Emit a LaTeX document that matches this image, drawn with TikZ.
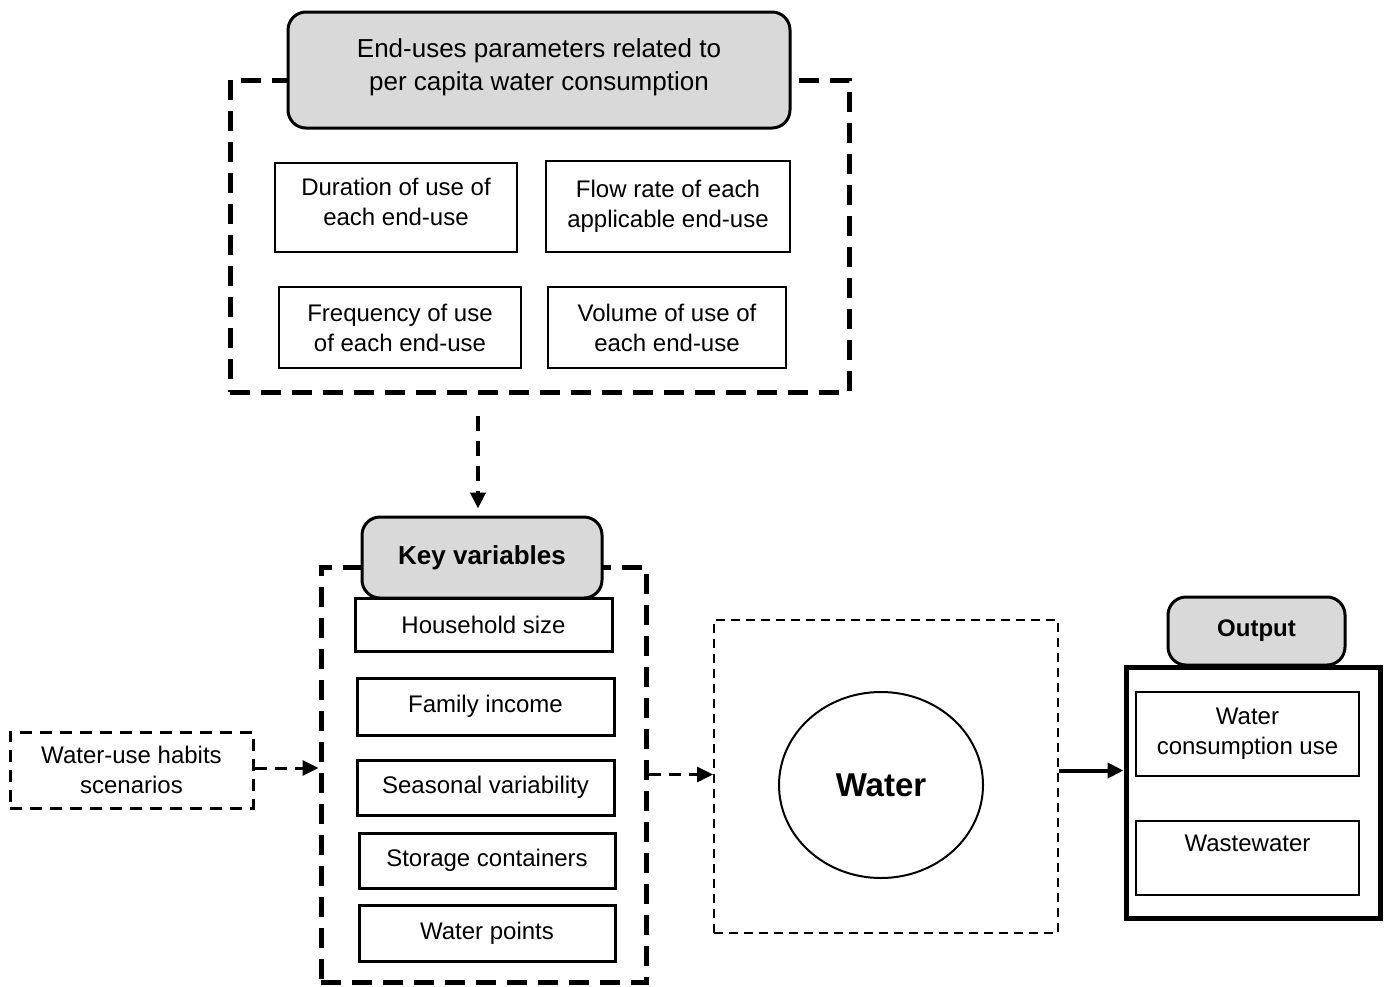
\documentclass[tikz,border=0pt]{standalone}
\usepackage{fontspec}
\setmainfont{Liberation Sans}
\usetikzlibrary{shapes.geometric,arrows.meta}

\begin{document}
\begin{tikzpicture}[x=1pt,y=-1pt,
  txt/.style={font=\fontsize{24}{30}\selectfont, align=center, inner sep=0pt},
  thinbox/.style={txt, draw, line width=1.5pt},
  thickbox/.style={txt, draw, line width=3pt},
  headbox/.style={draw, line width=3pt, fill=black!15, rounded corners=18pt, align=center, inner sep=0pt},
  bigdash/.style={draw, line width=5pt, dash pattern=on 20pt off 11pt},
  middash/.style={line width=3pt, dash pattern=on 12pt off 8pt},
  tip/.style={-{Triangle[length=16pt,width=15pt]}}]
\useasboundingbox (0,0) rectangle (1386,986);

% End-uses parameters
\node[bigdash, minimum width=619pt, minimum height=312pt] (params) at (539.5,236) {};
\node[headbox, minimum width=502pt, minimum height=116pt, font=\fontsize{26}{33}\selectfont] (paramhead) at (539,70)
  {End-uses parameters related to\\per capita water consumption\\[-22pt]};
\node[thinbox, minimum width=242pt, minimum height=89pt] (duration) at (396,207.5) {Duration of use of\\each end-use\\[-18pt]};
\node[thinbox, minimum width=244pt, minimum height=91pt] (flow) at (668,206.5) {Flow rate of each\\applicable end-use};
\node[thinbox, minimum width=242pt, minimum height=81pt] (frequency) at (400,327.5) {Frequency of use\\of each end-use};
\node[thinbox, minimum width=238pt, minimum height=81pt] (volume) at (667,327.5) {Volume of use of\\each end-use};

% Key variables
\node[bigdash, minimum width=325pt, minimum height=415pt] (keys) at (483.5,774.5) {};
\node[thickbox, minimum width=257pt, minimum height=53pt] (household) at (483.5,624.5) {Household size};
\node[thickbox, minimum width=257pt, minimum height=57pt] (income) at (485.5,706.5) {Family income};
\node[thickbox, minimum width=257pt, minimum height=55pt] (seasonal) at (485.5,787.5) {Seasonal variability};
\node[thickbox, minimum width=256pt, minimum height=55pt] (storage) at (487,860.5) {Storage containers};
\node[thickbox, minimum width=256pt, minimum height=56pt] (points) at (487,933) {Water points};
\node[headbox, minimum width=240pt, minimum height=81pt, font=\fontsize{26}{30}\selectfont\bfseries] (keyhead) at (482,557.5) {Key variables};

% Habits
\node[txt, draw, middash, minimum width=243pt, minimum height=76pt] (habits) at (131.5,770) {Water-use habits\\scenarios};

% Water
\node[draw, line width=2pt, dash pattern=on 9pt off 6pt, minimum width=344pt, minimum height=313pt] (waterbox) at (886,776.5) {};
\node[ellipse, draw, line width=2pt, minimum width=204pt, minimum height=186pt, font=\fontsize{33}{40}\selectfont\bfseries] (water) at (881,785) {Water};

% Output
\node[draw, line width=5pt, minimum width=254pt, minimum height=251pt] (outbox) at (1253,792.5) {};
\node[headbox, minimum width=177pt, minimum height=68pt, font=\fontsize{24}{30}\selectfont\bfseries] (outhead) at (1256.5,631) {Output};
\node[thinbox, minimum width=223pt, minimum height=84pt] (consumption) at (1247.5,734) {Water\\consumption use};
\node[thinbox, minimum width=223pt, minimum height=74pt] (waste) at (1247.5,858) {Wastewater\\\mbox{}};

% Connectors
\coordinate (drop) at (478,392);
\draw[line width=4.5pt, dash pattern=on 15pt off 10pt, tip, shorten <=24pt, shorten >=7pt] (drop) -- (drop |- keyhead.north);
\draw[middash, tip] ([yshift=2pt]habits.east) -- ([yshift=2pt]habits.east -| keys.west);
\draw[middash, tip] (keys.east) -- (keys.east -| waterbox.west);
\draw[line width=4pt, tip] ([yshift=6pt]waterbox.east) -- ([yshift=6pt]waterbox.east -| outbox.west);
\end{tikzpicture}
\end{document}
